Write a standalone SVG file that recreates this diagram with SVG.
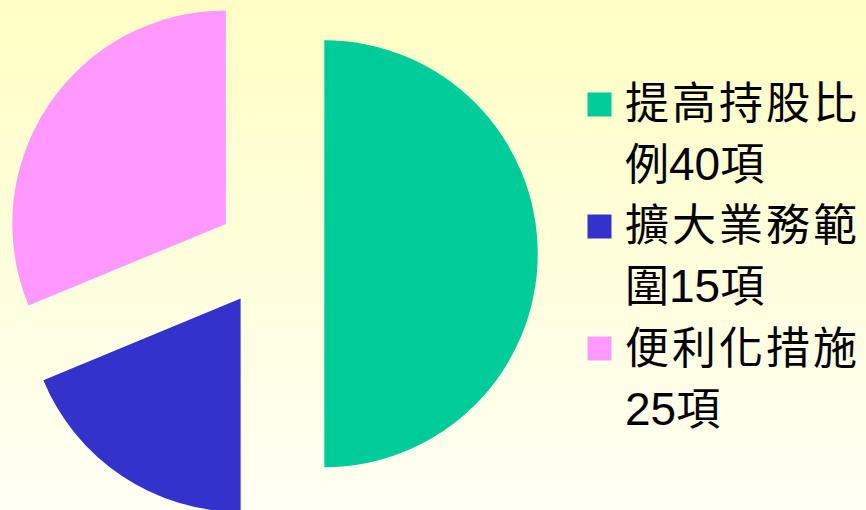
<svg xmlns="http://www.w3.org/2000/svg" width="866" height="510" viewBox="0 0 866 510">
  <defs>
    <linearGradient id="bg" x1="0" y1="0" x2="0" y2="1">
      <stop offset="0" stop-color="#FFFFC4"/>
      <stop offset="1" stop-color="#FFFFF4"/>
    </linearGradient>
  </defs>
  <style>
    .green { fill: #00CC99; }
    .blue { fill: #3333CC; }
    .pink { fill: #FF99FF; }
    .lbl { font-family: "Liberation Sans", "Noto Sans CJK TC", sans-serif; font-size: 44px; fill: #000000; }
    .cjk { letter-spacing: 3px; }
    .num { font-size: 46px; }
  </style>
  <rect x="0" y="0" width="866" height="510" fill="url(#bg)"/>

  <g id="slice-green">
    <path class="green" d="M324.3,253.8 L324.3,40.3 A213.5,213.5 0 0 1 324.3,467.3 Z"/>
  </g>
  <g id="slice-blue">
    <path class="blue" d="M240.6,298.5 L240.6,512 A213.5,213.5 0 0 1 43.35,380.2 Z"/>
  </g>
  <g id="slice-pink">
    <path class="pink" d="M225.8,223.9 L28.55,305.6 A213.5,213.5 0 0 1 225.8,10.4 Z"/>
  </g>

  <g id="legend-green">
    <rect class="green" x="587.5" y="92.5" width="24" height="24"/>
    <text class="lbl cjk" x="625" y="119">提高持股比</text>
    <text class="lbl" x="625" y="180">例<tspan class="num">40</tspan>項</text>
  </g>
  <g id="legend-blue">
    <rect class="blue" x="587.5" y="214.5" width="24" height="24"/>
    <text class="lbl cjk" x="625" y="241">擴大業務範</text>
    <text class="lbl" x="625" y="302">圍<tspan class="num">15</tspan>項</text>
  </g>
  <g id="legend-pink">
    <rect class="pink" x="587.5" y="336.5" width="24" height="24"/>
    <text class="lbl cjk" x="625" y="364">便利化措施</text>
    <text class="lbl" x="625" y="425"><tspan class="num">25</tspan>項</text>
  </g>
</svg>
